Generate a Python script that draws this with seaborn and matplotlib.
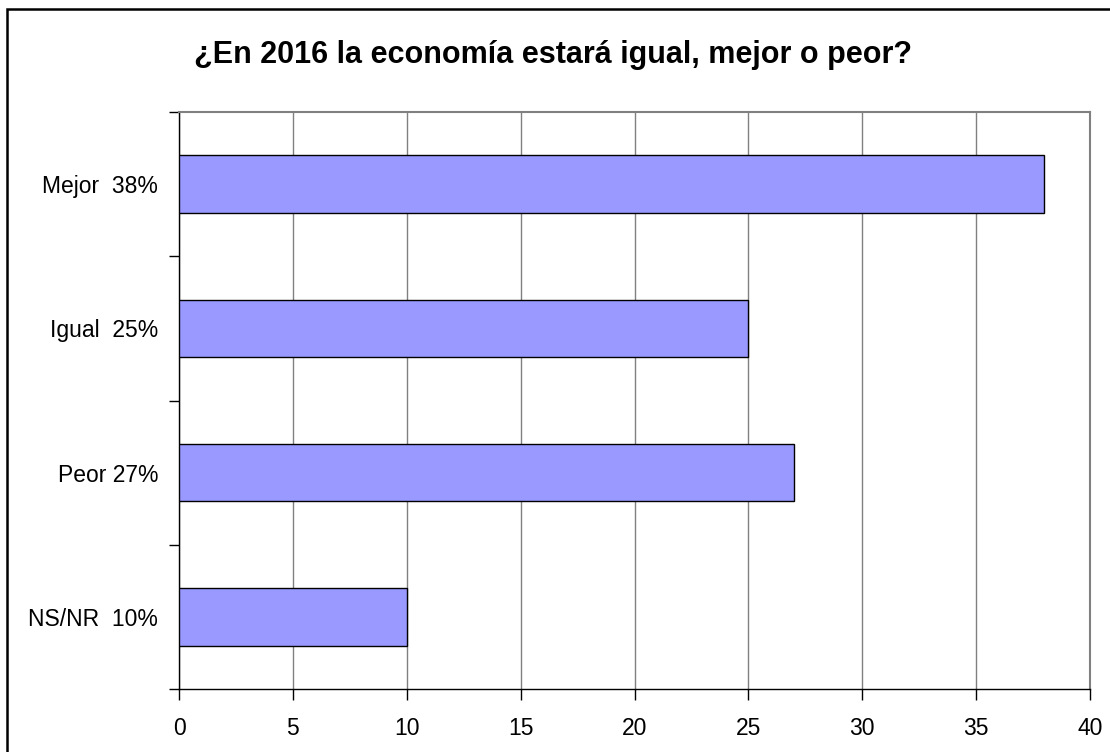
import matplotlib
matplotlib.use('Agg')
import matplotlib.pyplot as plt
from matplotlib.patches import Rectangle
import seaborn as sns
import pandas as pd
import numpy as np

# Survey answers and their shares (%)
categories = ['Mejor  38%', 'Igual  25%', 'Peor 27%', 'NS/NR  10%']
values = [38, 25, 27, 10]
x_ticks = [0, 5, 10, 15, 20, 25, 30, 35, 40]

sns.set_theme(style='white')
plt.rcParams['font.family'] = ['Liberation Sans', 'DejaVu Sans']

df = pd.DataFrame({'respuesta': categories, 'valor': values})

fig = plt.figure(figsize=(11.1, 7.52), dpi=100)
ax = fig.add_axes([179 / 1110, 63 / 752, 911 / 1110, 577 / 752])

sns.barplot(data=df, x='valor', y='respuesta', orient='h', color='#9999FF',
            edgecolor='black', linewidth=1.0, width=0.4, saturation=1, ax=ax,
            zorder=3)

ax.set_xlim(0, 40)
ax.set_ylim(len(categories) - 0.5, -0.5)
ax.set_xticks(x_ticks)
ax.set_xticklabels([str(t) for t in x_ticks])
ax.set_xlabel('')
ax.set_ylabel('')

# vertical gridlines
ax.grid(axis='x', color='#808080', linewidth=1.0, zorder=0)
ax.grid(axis='y', visible=False)
ax.set_axisbelow(True)

# spines: black left/bottom, grey top/right
for side in ['left', 'bottom']:
    ax.spines[side].set_color('black')
    ax.spines[side].set_linewidth(1.0)
for side in ['top', 'right']:
    ax.spines[side].set_color('#808080')
    ax.spines[side].set_linewidth(1.5)
    ax.spines[side].set_visible(True)

# category labels at centres, tick marks at the category boundaries
ax.set_yticks(np.arange(len(categories)))
ax.set_yticklabels(categories)
ax.set_yticks(np.arange(-0.5, len(categories), 1.0), minor=True)
ax.tick_params(axis='y', which='major', length=0, pad=15, labelsize=16.5, colors='black')
ax.tick_params(axis='y', which='minor', length=7, width=1, color='black', direction='out', left=True)
ax.tick_params(axis='x', which='major', length=8, width=1, color='black', direction='out',
               bottom=True, pad=12, labelsize=16.5, labelcolor='black')

fig.text(0.498, 0.927, '¿En 2016 la economía estará igual, mejor o peor?',
         ha='center', va='center', fontsize=22, fontweight='bold', color='black')

# outer chart frame
fig.patches.append(Rectangle((7 / 1110, -0.05), 1.2, (752 - 9) / 752 + 0.05,
                             transform=fig.transFigure, fill=False,
                             edgecolor='black', linewidth=1.8))

fig.savefig('out.png', dpi=100)
